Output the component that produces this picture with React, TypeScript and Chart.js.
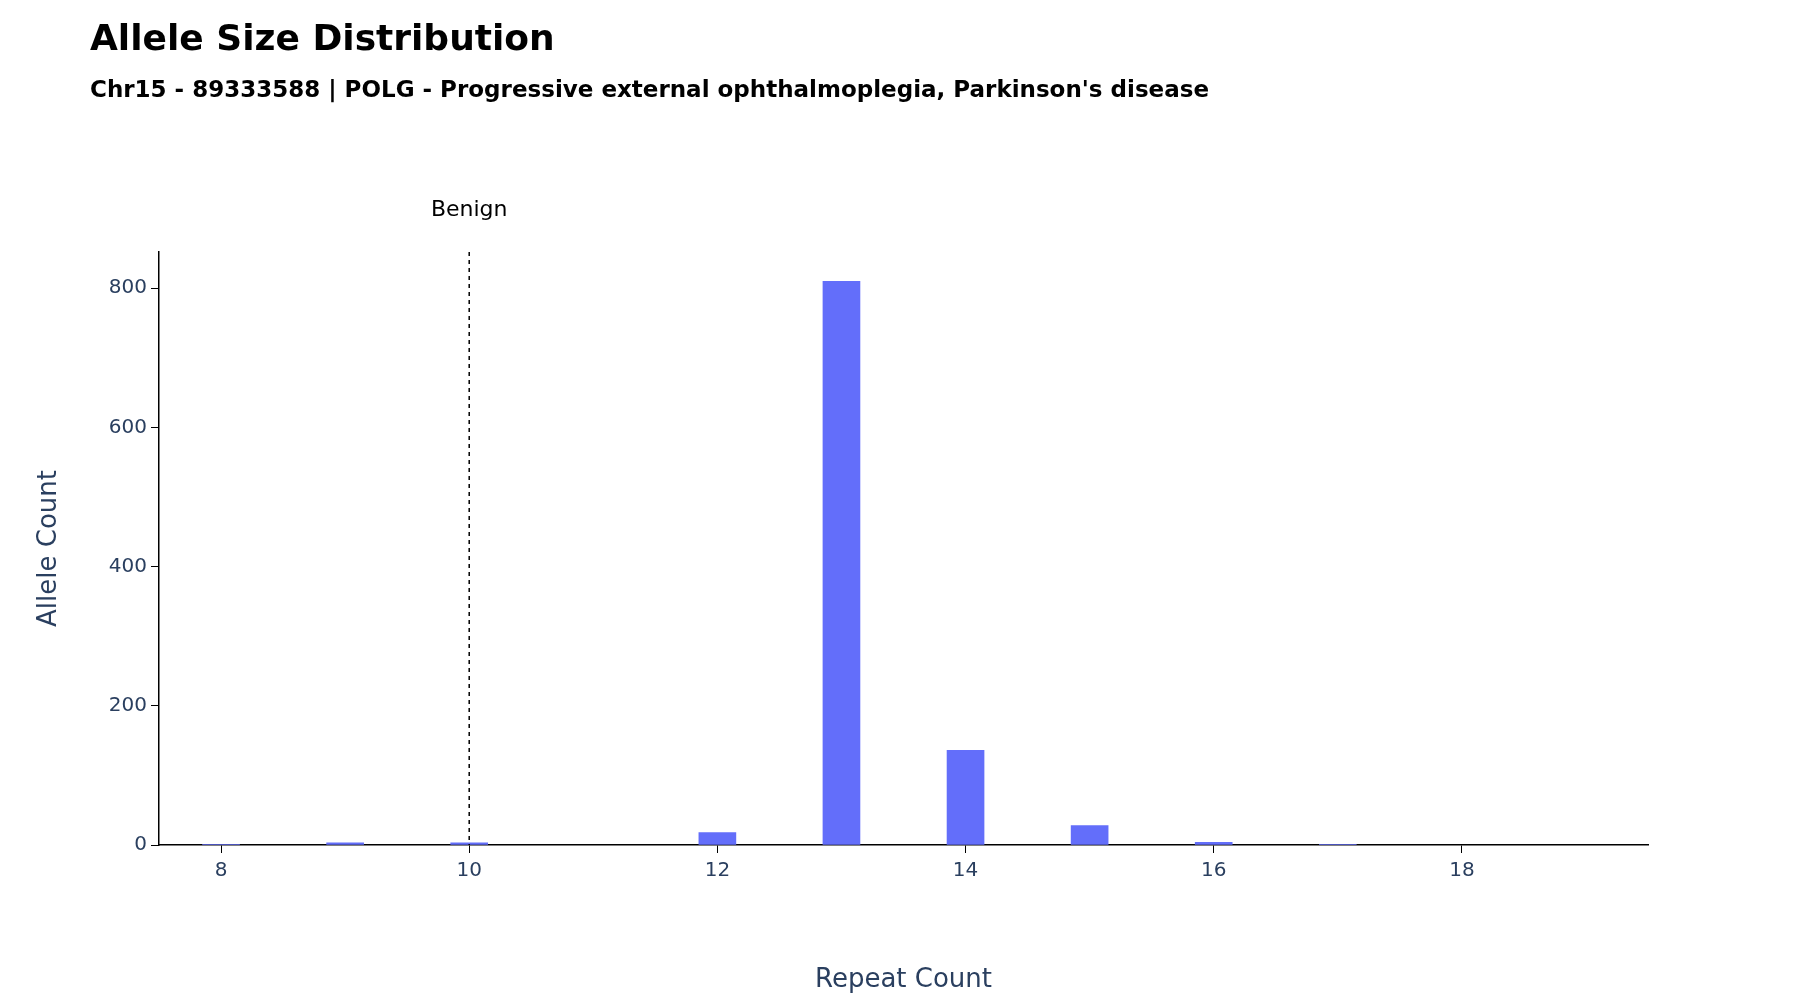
import React, { useEffect, useRef } from "react";
import { Chart, registerables } from "chart.js";
Chart.register(...registerables);

const repeatCounts = [8, 9, 10, 12, 13, 14, 15, 16, 17];
const alleleCounts = [1, 3, 3, 18, 810, 136, 28, 4, 1];
const xTicks = [8, 10, 12, 14, 16, 18];
const yTicks = [0, 200, 400, 600, 800];
const benignX = 10;
const FONT = "'DejaVu Sans', Verdana, sans-serif";
const TICK_COLOR = "#2a3f5f";

export default function App() {
  const ref = useRef<HTMLCanvasElement>(null);
  useEffect(() => {
    const overlay = {
      id: "overlay",
      afterDatasetsDraw(chart: any) {
        const { ctx, chartArea, scales } = chart;
        const px = scales.x.getPixelForValue(benignX);
        ctx.save();
        ctx.strokeStyle = "#000";
        ctx.lineWidth = 1.5;
        ctx.setLineDash([4, 4]);
        ctx.beginPath();
        ctx.moveTo(px, chartArea.top);
        ctx.lineTo(px, chartArea.bottom);
        ctx.stroke();
        ctx.setLineDash([]);
        ctx.fillStyle = "#000";
        ctx.font = `22px ${FONT}`;
        ctx.textAlign = "center";
        ctx.textBaseline = "alphabetic";
        ctx.fillText("Benign", px, chartArea.top - 36);
        ctx.textAlign = "left";
        ctx.font = `bold 36px ${FONT}`;
        ctx.fillText("Allele Size Distribution", 90, 50);
        ctx.font = `bold 23px ${FONT}`;
        ctx.fillText("Chr15 - 89333588 | POLG - Progressive external ophthalmoplegia, Parkinson's disease", 90, 97);
        ctx.restore();
      },
    };
    const chart = new Chart(ref.current!, {
      type: "bar",
      data: {
        datasets: [
          {
            data: repeatCounts.map((x, i) => ({ x, y: alleleCounts[i] })),
            backgroundColor: "#636efa",
            barThickness: 37,
          },
        ],
      },
      options: {
        animation: false,
        responsive: false,
        layout: { padding: { left: 30, top: 252, right: 152, bottom: 0 } },
        plugins: { legend: { display: false }, tooltip: { enabled: false } },
        scales: {
          x: {
            type: "linear",
            offset: false,
            min: 7.5,
            max: 19.5,
            afterBuildTicks: (s: any) => {
              s.ticks = xTicks.map((v) => ({ value: v }));
            },
            afterFit: (s: any) => {
              s.height = 155;
            },
            grid: { display: true, offset: false, drawOnChartArea: false, drawTicks: true, tickLength: 8, tickColor: "#000" },
            border: { color: "#000", width: 1.5 },
            ticks: { color: TICK_COLOR, font: { family: FONT, size: 20 }, padding: 6 },
            title: { display: true, text: "Repeat Count", color: TICK_COLOR, font: { family: FONT, size: 26 }, padding: { top: 8 } },
          },
          y: {
            min: 0,
            max: 852,
            afterBuildTicks: (s: any) => {
              s.ticks = yTicks.map((v) => ({ value: v }));
            },
            afterFit: (s: any) => {
              s.width = 129;
            },
            grid: { display: true, drawOnChartArea: false, drawTicks: true, tickLength: 8, tickColor: "#000" },
            border: { color: "#000", width: 1.5 },
            ticks: { color: TICK_COLOR, font: { family: FONT, size: 20 }, padding: 4 },
            title: { display: true, text: "Allele Count", color: TICK_COLOR, font: { family: FONT, size: 26 }, padding: { bottom: 0 } },
          },
        },
      },
      plugins: [overlay],
    });
    return () => chart.destroy();
  }, []);
  return (
    <div style={{ position: "absolute", left: 0, top: 0, width: 1800, height: 1000, background: "#fff" }}>
      <canvas ref={ref} width={1800} height={1000} style={{ width: 1800, height: 1000 }} />
    </div>
  );
}
